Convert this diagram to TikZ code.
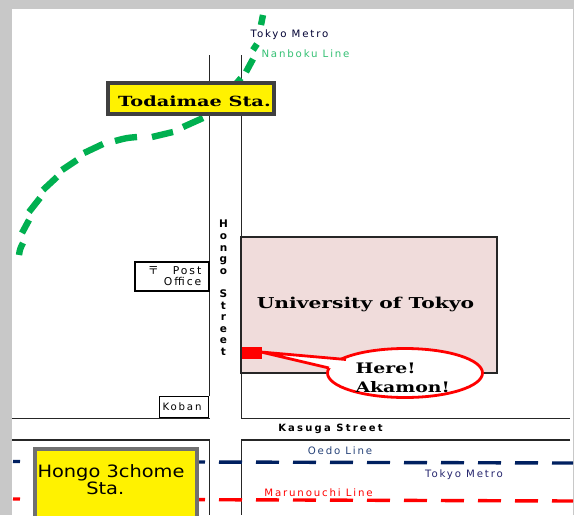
\documentclass[tikz,border=0pt]{standalone}
\usepackage{fontspec}
\usepackage{graphicx}
\usetikzlibrary{shapes.geometric}
\setmainfont{DejaVu Sans}
\newfontfamily\lbl[LetterSpace=18]{DejaVu Sans}
\newfontfamily\lblb[LetterSpace=22]{DejaVu Sans Bold}
\newfontfamily\srf{DejaVu Serif Bold}
\newfontfamily\cjk{Noto Sans CJK JP}
\definecolor{pagegray}{HTML}{C8C8C8}
\definecolor{uni}{HTML}{F0DCDB}
\definecolor{metgreen}{HTML}{00B050}
\definecolor{navy}{HTML}{002060}
\definecolor{boxgray}{HTML}{404040}
\tikzset{
 road/.style={draw=black!85,line width=1.1pt},
 rail/.style={line width=3.4pt,dash pattern=on 23pt off 14pt},
 greenrail/.style={draw=metgreen,line width=6.4pt},
 stationbox/.style={draw=boxgray,fill=yellow,line width=3.4pt,inner sep=0pt},
 small/.style={font=\lbl\fontsize{10.2}{11}\selectfont,inner sep=0pt},
 serifbold/.style={font=\srf\fontsize{15}{19}\selectfont,inner sep=0pt},
 minibox/.style={draw=black,fill=white,line width=1.1pt,inner sep=0pt},
}
\begin{document}
\begin{tikzpicture}[x=1pt,y=-1pt]
\useasboundingbox (0,0) rectangle (574,515);
\fill[pagegray] (0,0) rectangle (574,515);
\fill[white] (12,9) rectangle (573,515);
% university
\node[draw=black!85,fill=uni,line width=1.1pt,minimum width=256pt,minimum height=136pt,inner sep=0pt] (univ) at (369,305) {};
\node[serifbold] (univt) at (365.5,304) {\scalebox{1.35}[1]{University of Tokyo}};
% roads
\coordinate (hlt) at (209.5,55); \coordinate (hlb) at (209.5,396);
\coordinate (hrt) at (241.5,55); \coordinate (hrb) at (241.5,418.5);
\draw[road] (hlt) -- (hlb);
\draw[road] (hrt) -- (hrb);
\coordinate (ka) at (12,418.5); \coordinate (kb) at (209.5,418.5);
\coordinate (kc) at (570,418.5);
\draw[road] (ka) -- (kb); \draw[road] (hrb) -- (kc);
\coordinate (la) at (12,440); \coordinate (lb) at (209.5,440);
\coordinate (lc) at (241.5,440); \coordinate (ld) at (570,440);
\coordinate (le) at (209.5,515); \coordinate (lf) at (241.5,515);
\draw[road] (la) -- (lb) -- (le);
\draw[road] (ld) -- (lc) -- (lf);
% rails
\coordinate (o1) at (13,461.5); \coordinate (o2) at (573,463);
\coordinate (m1) at (13,499); \coordinate (m2) at (573,501);
\draw[rail,navy,dash phase=16pt] (o1) -- (o2);
\draw[rail,red,dash phase=16pt] (m1) -- (m2);
% green line
\foreach \ax/\ay/\cx/\cy/\bx/\by in {
 263/15/262/20/261/25,
 257/44/255/47/253/50,
 253/59/250/66/246/72,
 241/78/238/81/235/85,
 203/118/193/123/183/127,
 173/132/163/135/152/137,
 137/137/126/138/115/141,
 103/144/93/148/84/153,
 77/160/69/165/62/170,
 57/177/50/183/43/190,
 40/198/34/205/29/212,
 29/220/25/226/22/233,
 23/243/20/249/19/255}
 \draw[greenrail] (\ax,\ay) .. controls (\cx,\cy) .. (\bx,\by);
% stations
\node[stationbox,minimum width=166pt,minimum height=31pt] (tod) at (191,98.5) {};
\node[serifbold] (todt) at (194.5,101) {\scalebox{1.38}[1]{\fontsize{14}{15}\selectfont Todaimae Sta.}};
\node[draw=boxgray!75,fill=yellow,line width=3.4pt,inner sep=0pt,minimum width=162pt,minimum height=80pt] (hon) at (116,489) {};
\node[align=center,inner sep=0pt,text=black] (hont) at (111,479.5) {\scalebox{1.14}[1]{\parbox{130pt}{\centering\fontsize{17}{17.5}\selectfont Hongo 3chome\\Sta.\hspace{10pt}\mbox{}}}};
% small boxes
\node[minibox,minimum width=74pt,minimum height=29pt] (post) at (172,276.5) {};
\node[small,align=right,anchor=east,font=\lbl\fontsize{10.8}{11}\selectfont] (postt) at (201.5,276.5) {{\cjk\fontsize{11}{11}\selectfont 〒}\hspace{14pt}Post\\Office};
\node[minibox,minimum width=49pt,minimum height=21pt] (koban) at (184,407) {};
\node[small] (kobant) at (182,407) {Koban};
% labels
\node[small,text=black!80!blue] (tm1) at (289.5,34.5) {Tokyo Metro};
\node[small,text=metgreen!80] (nb) at (305.5,53.5) {Nanboku Line};
\node[small,text=navy!85] (oedo) at (340,451) {Oedo Line};
\node[small,text=black!60!blue!70!gray] (tm2) at (464,475) {Tokyo Metro};
\node[small,text=red] (maru) at (318.5,493) {Marunouchi Line};
\node[font=\lblb\fontsize{10}{10}\selectfont,inner sep=0pt] (kas) at (330.5,428.5) {Kasuga Street};
\node[font=\lblb\fontsize{10.5}{11.6}\selectfont,align=center,inner sep=0pt,anchor=north] (hst) at (223.5,220) {H\\o\\n\\g\\o\\~\\S\\t\\r\\e\\e\\t};
% here marker and callout
\node[fill=red,minimum width=20pt,minimum height=12pt,inner sep=0pt] (mark) at (251.5,353) {};
\node[ellipse,draw=red,fill=white,line width=2.8pt,minimum width=155pt,minimum height=49pt,inner sep=0pt] (call) at (405,373) {};
\coordinate (tip) at (261,352);
\coordinate (ca) at (346,359.5);
\coordinate (cb) at (329,368);
\fill[white] (tip) -- (ca) -- (352,372) -- (cb) -- cycle;
\draw[red,line width=2.8pt] (ca) -- (tip) -- (cb);
\node[serifbold,align=left] (callt) at (403,377.5) {\scalebox{1.3}[1]{\parbox{73pt}{\fontsize{14.5}{19}\selectfont Here!\\Akamon!}}};
\end{tikzpicture}
\end{document}
